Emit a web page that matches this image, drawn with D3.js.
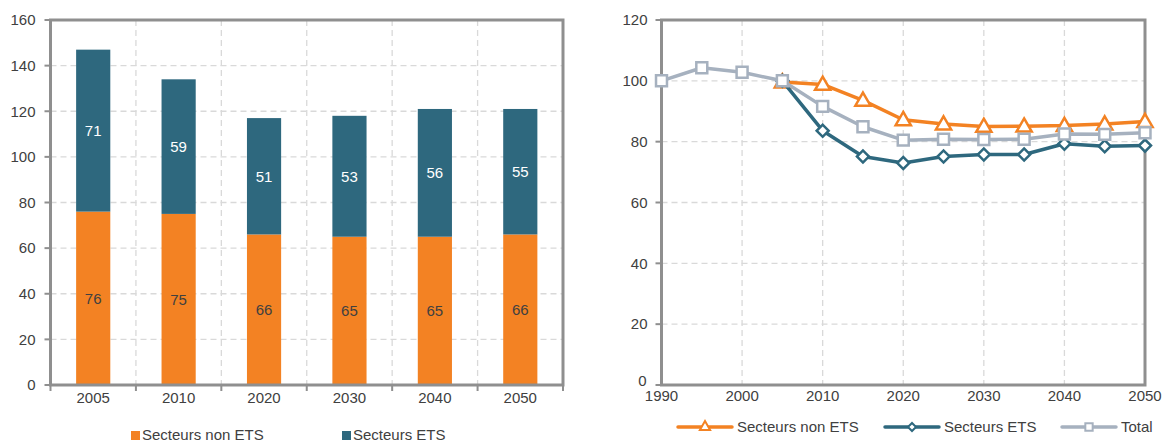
<!DOCTYPE html>
<html><head><meta charset="utf-8">
<script src="https://cdn.jsdelivr.net/npm/d3@7"></script>
<style>body{margin:0;background:#fff}svg{display:block}text{font-family:"Liberation Sans",Arial,sans-serif;}</style>
</head><body>
<svg id="c" width="1164" height="442"></svg>
<script>
// ---- Left chart data ----
const barYears = ["2005","2010","2020","2030","2040","2050"];
const nonEts = [76, 75, 66, 65, 65, 66];
const ets = [71, 59, 51, 53, 56, 55];
const barYTicks = [0,20,40,60,80,100,120,140,160];
// ---- Right chart data ----
const lineYears = [1990,1995,2000,2005,2010,2015,2020,2025,2030,2035,2040,2045,2050];
const lineNonEts = [null,null,null,99.6,98.8,93.6,87.2,85.8,85.0,85.1,85.3,85.8,86.6];
const lineEts = [null,null,null,100,83.6,75.1,73.0,75.1,75.8,75.8,79.3,78.5,78.7];
const lineTotal = [100,104.3,102.8,100,91.6,84.9,80.5,80.8,80.7,80.8,82.5,82.4,82.9];
const lineXTicks = [1990,2000,2010,2020,2030,2040,2050];
const lineYTicks = [0,20,40,60,80,100,120];

const ORANGE = "#f38223", TEAL = "#2e687e", GRAY = "#a6b1bf";
const AXIS = "#8f8f8f", GRID = "#d9d9d9", TXT = "#404040";
const svg = d3.select("#c");

// ================= LEFT: stacked bars =================
{
  const L = 50.5, R = 563, T = 20, B = 385;
  const x = d3.scaleBand().domain(barYears).range([L, R]).paddingInner(0.6).paddingOuter(0.3);
  const y = d3.scaleLinear().domain([0,160]).range([B, T]);
  const g = svg.append("g");
  const step = x.step();
  g.selectAll(".hg").data(barYTicks.filter(d=>d>0 && d<160)).join("line")
    .attr("x1", L).attr("x2", R).attr("y1", d=>y(d)).attr("y2", d=>y(d))
    .attr("stroke", GRID).attr("stroke-width", 1.3).attr("stroke-dasharray", "6,4");
  const bounds = barYears.slice(0,-1).map(c => x(c) + x.bandwidth()/2 + step/2);
  g.selectAll(".vg").data(bounds).join("line")
    .attr("x1", d=>d).attr("x2", d=>d).attr("y1", T).attr("y2", B)
    .attr("stroke", GRID).attr("stroke-width", 1.3).attr("stroke-dasharray", "6,4");
  const stack = barYears.map((c,i)=>({c, a: nonEts[i], b: ets[i]}));
  g.selectAll(".bo").data(stack).join("rect")
    .attr("x", d=>x(d.c)).attr("width", x.bandwidth())
    .attr("y", d=>y(d.a)).attr("height", d=>y(0)-y(d.a)).attr("fill", ORANGE);
  g.selectAll(".bt").data(stack).join("rect")
    .attr("x", d=>x(d.c)).attr("width", x.bandwidth())
    .attr("y", d=>y(d.a+d.b)).attr("height", d=>y(d.a)-y(d.a+d.b)).attr("fill", TEAL);
  g.selectAll(".lo").data(stack).join("text")
    .attr("x", d=>x(d.c)+x.bandwidth()/2).attr("y", d=>y(d.a/2))
    .attr("dy","0.35em").attr("text-anchor","middle").attr("font-size",15).attr("fill", TXT)
    .text(d=>d.a);
  g.selectAll(".lt").data(stack).join("text")
    .attr("x", d=>x(d.c)+x.bandwidth()/2).attr("y", d=>y(d.a + d.b/2))
    .attr("dy","0.35em").attr("text-anchor","middle").attr("font-size",15).attr("fill", "#fff")
    .text(d=>d.b);
  g.append("rect").attr("x", L).attr("y", T).attr("width", R-L).attr("height", B-T)
    .attr("fill","none").attr("stroke", AXIS).attr("stroke-width", 3);
  g.selectAll(".yt").data(barYTicks).join("line")
    .attr("x1", L-6).attr("x2", L).attr("y1", d=>y(d)).attr("y2", d=>y(d))
    .attr("stroke", AXIS).attr("stroke-width", 2);
  g.selectAll(".yl").data(barYTicks).join("text")
    .attr("x", L-15).attr("y", d=>y(d)).attr("dy","0.35em").attr("text-anchor","end")
    .attr("font-size",15).attr("fill", TXT).text(d=>d);
  g.selectAll(".xt").data([L, ...bounds, R]).join("line")
    .attr("x1", d=>d).attr("x2", d=>d).attr("y1", B).attr("y2", B+6)
    .attr("stroke", AXIS).attr("stroke-width", 2);
  g.selectAll(".xl").data(barYears).join("text")
    .attr("x", d=>x(d)+x.bandwidth()/2).attr("y", 398).attr("dy","0.35em").attr("text-anchor","middle")
    .attr("font-size",15).attr("fill", TXT).text(d=>d);
  const leg = [{t:"Secteurs non ETS", c:ORANGE, x:131},{t:"Secteurs ETS", c:TEAL, x:342}];
  leg.forEach(l=>{
    g.append("rect").attr("x", l.x).attr("y", 431).attr("width", 9).attr("height", 9).attr("fill", l.c);
    g.append("text").attr("x", l.x+11).attr("y", 435).attr("dy","0.35em")
      .attr("font-size",15).attr("fill", TXT).text(l.t);
  });
}

// ================= RIGHT: lines =================
{
  const L = 661.5, R = 1145, T = 20, B = 385;
  const x = d3.scaleLinear().domain([1990,2050]).range([L, R]);
  const y = d3.scaleLinear().domain([0,120]).range([B, T]);
  const g = svg.append("g");
  g.selectAll(".hg").data(lineYTicks.filter(d=>d>0 && d<120)).join("line")
    .attr("x1", L).attr("x2", R).attr("y1", d=>y(d)).attr("y2", d=>y(d))
    .attr("stroke", GRID).attr("stroke-width", 1.3).attr("stroke-dasharray", "6,4");
  g.selectAll(".vg").data(lineXTicks.filter(d=>d>1990 && d<2050)).join("line")
    .attr("x1", d=>x(d)).attr("x2", d=>x(d)).attr("y1", T).attr("y2", B)
    .attr("stroke", GRID).attr("stroke-width", 1.3).attr("stroke-dasharray", "6,4");
  g.append("rect").attr("x", L).attr("y", T).attr("width", R-L).attr("height", B-T)
    .attr("fill","none").attr("stroke", AXIS).attr("stroke-width", 3);
  g.selectAll(".yt").data(lineYTicks).join("line")
    .attr("x1", L-6).attr("x2", L).attr("y1", d=>y(d)).attr("y2", d=>y(d))
    .attr("stroke", AXIS).attr("stroke-width", 2);
  g.selectAll(".yl").data(lineYTicks).join("text")
    .attr("x", d=> d===0 ? L-15 : L-14).attr("y", d=>y(d) - (d===0 ? 4 : 0)).attr("dy","0.35em").attr("text-anchor","end")
    .attr("font-size",15).attr("fill", TXT).text(d=>d);
  g.selectAll(".xl").data(lineXTicks).join("text")
    .attr("x", d=>x(d)).attr("y", 396).attr("dy","0.35em").attr("text-anchor","middle")
    .attr("font-size",15).attr("fill", TXT).text(d=>d);

  const series = [
    {name:"Secteurs non ETS", vals: lineNonEts, c: ORANGE, m:"tri"},
    {name:"Secteurs ETS", vals: lineEts, c: TEAL, m:"dia"},
    {name:"Total", vals: lineTotal, c: GRAY, m:"sq"}
  ];
  const sym = {tri: d3.symbolTriangle, dia: d3.symbolSquare, sq: d3.symbolSquare};
  const size = {tri: 100, dia: 72, sq: 120};
  const rot = {tri: 0, dia: 45, sq: 0};
  const line = d3.line().defined(d=>d.v!=null).x(d=>x(d.y)).y(d=>y(d.v));
  series.forEach(s=>{
    const pts = lineYears.map((yr,i)=>({y:yr, v:s.vals[i]}));
    g.append("path").datum(pts).attr("d", line).attr("fill","none")
      .attr("stroke", s.c).attr("stroke-width", 3.5).attr("stroke-linejoin","round");
    g.selectAll(null).data(pts.filter(d=>d.v!=null)).join("path")
      .attr("transform", d=>`translate(${x(d.y)},${y(d.v) + (s.m==="tri"?1:0)}) rotate(${rot[s.m]})`)
      .attr("d", d3.symbol().type(sym[s.m]).size(size[s.m]))
      .attr("fill","#fff").attr("stroke", s.c).attr("stroke-width", 2.5);
  });
  const lg = [{s:series[0], x:678},{s:series[1], x:885},{s:series[2], x:1062}];
  lg.forEach(l=>{
    const ly = 427;
    g.append("line").attr("x1", l.x).attr("x2", l.x+54).attr("y1", ly).attr("y2", ly)
      .attr("stroke", l.s.c).attr("stroke-width", 3.5).attr("stroke-linecap","round");
    g.append("path").attr("transform", `translate(${l.x+27},${ly}) rotate(${rot[l.s.m]})`)
      .attr("d", d3.symbol().type(sym[l.s.m]).size(size[l.s.m]*0.45))
      .attr("fill","#fff").attr("stroke", l.s.c).attr("stroke-width", 2);
    g.append("text").attr("x", l.x+59).attr("y", ly).attr("dy","0.35em")
      .attr("font-size",15).attr("fill", TXT).text(l.s.name);
  });
}
</script>
</body></html>
